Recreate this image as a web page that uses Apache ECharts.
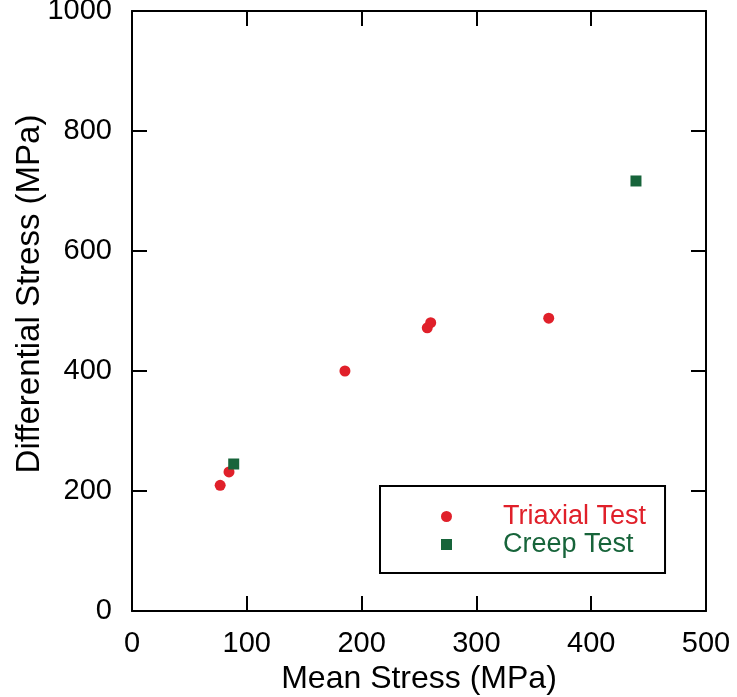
<!DOCTYPE html>
<html>
<head>
<meta charset="utf-8">
<script src="https://cdn.jsdelivr.net/npm/echarts@6/dist/echarts.min.js"></script>
<style>html,body{margin:0;padding:0;background:#fff}#c{width:737px;height:697px}</style>
</head>
<body>
<div id="c"></div>
<script>
const xTicks = [0, 100, 200, 300, 400, 500];
const yTicks = [0, 200, 400, 600, 800, 1000];
const triaxialMean = [76.8, 84.5, 185.5, 257.2, 260.2, 363];
const triaxialDiff = [209.5, 231.7, 400, 472, 480.5, 488];
const creepMean = [88.6, 439];
const creepDiff = [245, 716.7];
const seriesNames = ['Triaxial Test', 'Creep Test'];
const colors = ['#e0202a', '#17643a'];

const pair = (xs, ys) => xs.map((x, i) => [x, ys[i]]);
const FONT = '"Liberation Sans", Arial, sans-serif';
const lineStyle = { color: '#000', width: 2 };
const plain = v => String(v);

const chart = echarts.init(document.getElementById('c'));
chart.setOption({
  animation: false,
  backgroundColor: '#fff',
  grid: { left: 132, right: 31, top: 11, bottom: 86, containLabel: false, outerBoundsMode: 'none' },
  xAxis: [{
    type: 'value', min: xTicks[0], max: xTicks[xTicks.length - 1], interval: 100,
    name: 'Mean Stress (MPa)', nameLocation: 'middle', nameGap: 52, nameMoveOverlap: false,
    nameTextStyle: { fontFamily: FONT, fontSize: 32, color: '#000' },
    axisLine: { show: true, onZero: false, lineStyle },
    axisTick: { show: true, inside: true, length: 15, lineStyle },
    axisLabel: { fontFamily: FONT, fontSize: 29, color: '#000', margin: 18, formatter: plain },
    splitLine: { show: false }
  }, {
    type: 'value', position: 'top', min: xTicks[0], max: xTicks[xTicks.length - 1], interval: 100,
    axisLine: { show: true, onZero: false, lineStyle },
    axisTick: { show: true, inside: true, length: 15, lineStyle },
    axisLabel: { show: false }, splitLine: { show: false }
  }],
  yAxis: [{
    type: 'value', min: yTicks[0], max: yTicks[yTicks.length - 1], interval: 200,
    name: 'Differential Stress (MPa)', nameLocation: 'middle', nameGap: 86, nameMoveOverlap: false,
    nameTextStyle: { fontFamily: FONT, fontSize: 33, color: '#000', padding: [0, 0, 0, 34] },
    axisLine: { show: true, onZero: false, lineStyle },
    axisTick: { show: true, inside: true, length: 15, lineStyle },
    axisLabel: { fontFamily: FONT, fontSize: 29, color: '#000', margin: 20, formatter: plain },
    splitLine: { show: false }
  }, {
    type: 'value', position: 'right', min: yTicks[0], max: yTicks[yTicks.length - 1], interval: 200,
    axisLine: { show: true, onZero: false, lineStyle },
    axisTick: { show: true, inside: true, length: 15, lineStyle },
    axisLabel: { show: false }, splitLine: { show: false }
  }],
  legend: {
    left: 380, top: 486, orient: 'vertical',
    padding: [17, 19, 15, 61],
    borderColor: '#000', borderWidth: 2,
    itemWidth: 11, itemHeight: 11, itemGap: 1,
    textStyle: { fontFamily: FONT, fontSize: 27, lineHeight: 25, padding: [0, 0, 0, 46] },
    data: [
      { name: seriesNames[0], icon: 'circle', textStyle: { color: colors[0] } },
      { name: seriesNames[1], icon: 'rect', textStyle: { color: colors[1] } }
    ]
  },
  series: [{
    name: seriesNames[0], type: 'scatter', symbol: 'circle', symbolSize: 11,
    itemStyle: { color: colors[0], opacity: 1 },
    data: pair(triaxialMean, triaxialDiff)
  }, {
    name: seriesNames[1], type: 'scatter', symbol: 'rect', symbolSize: 11,
    itemStyle: { color: colors[1], opacity: 1 },
    data: pair(creepMean, creepDiff)
  }]
});
</script>
</body>
</html>
